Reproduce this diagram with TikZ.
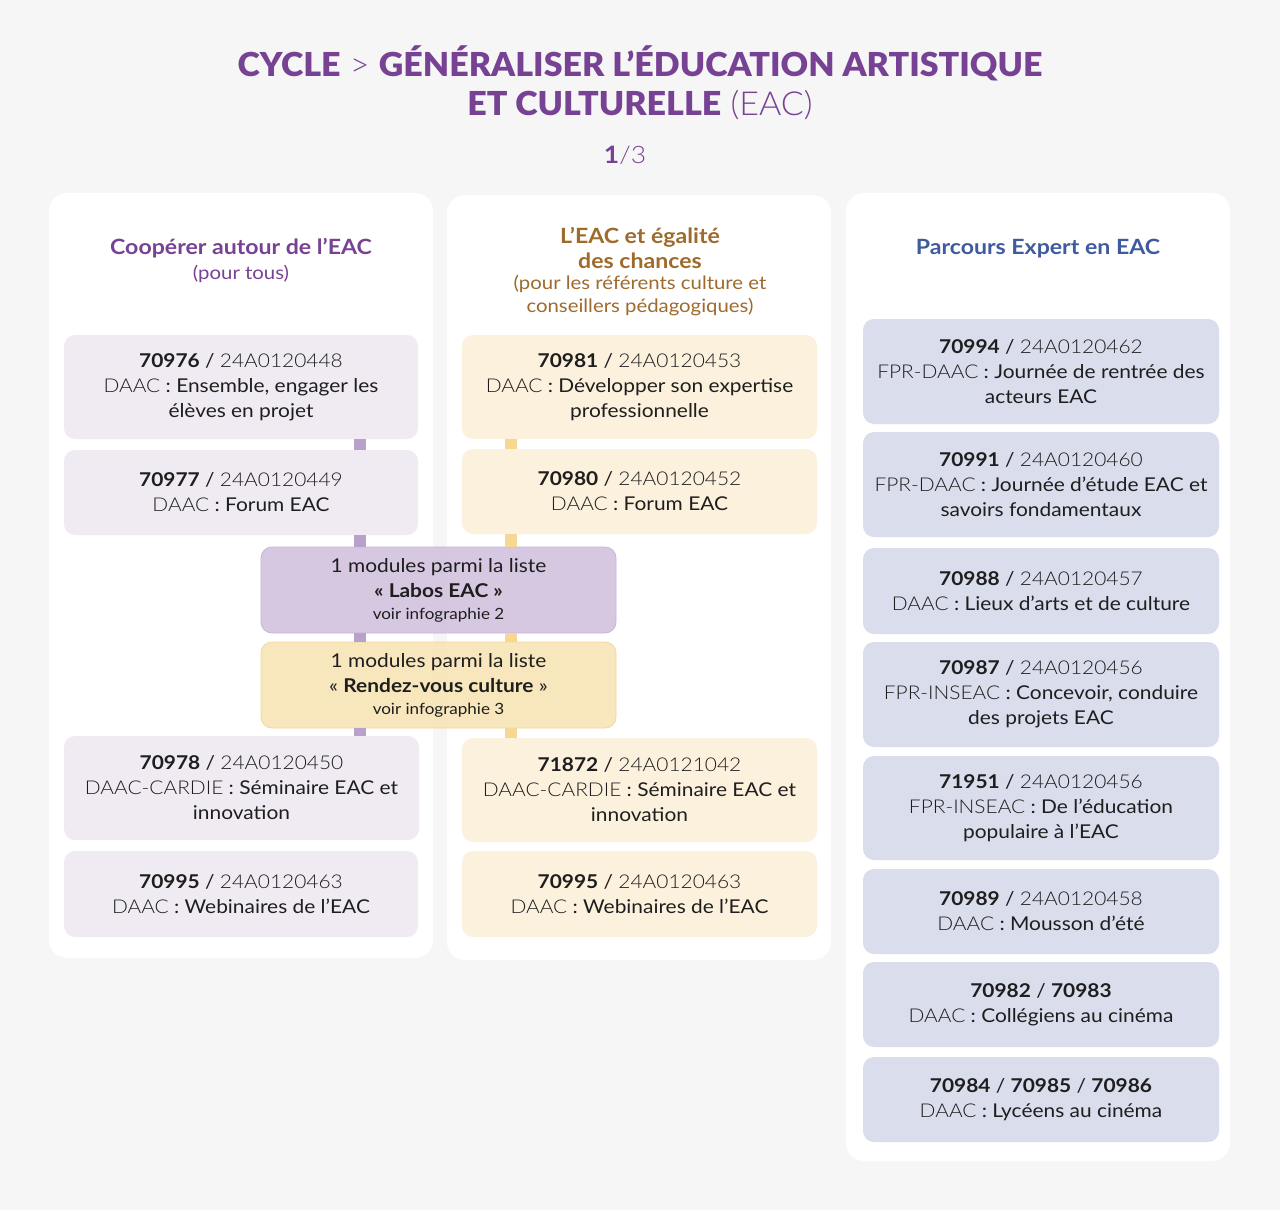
\documentclass[tikz,border=0pt]{standalone}
\usepackage{fontspec}
\setmainfont{Lato}[FakeStretch=1.1]
\newfontfamily\lt{Lato Light}[FakeStretch=1.1]
\newfontfamily\titlef[FakeStretch=1.03]{Lato Black}
\newfontfamily\titlelt[FakeStretch=1.03]{Lato Light}
\definecolor{bgc}{HTML}{F6F6F6}
\definecolor{purp}{HTML}{784294}
\definecolor{hbrown}{HTML}{9E6B2C}
\definecolor{hblue}{HTML}{3F5A9E}
\definecolor{lfill}{HTML}{F0EBF2}
\definecolor{mfill}{HTML}{FBF1DD}
\definecolor{rfill}{HTML}{D9DDEC}
\definecolor{labfill}{HTML}{D3C4DE}
\definecolor{labdraw}{HTML}{C9B5D9}
\definecolor{rdvfill}{HTML}{F8E5B8}
\definecolor{rdvdraw}{HTML}{F2D896}
\definecolor{lconnc}{HTML}{B8A2CC}
\definecolor{mconnc}{HTML}{F6D892}
\definecolor{txt}{HTML}{1E1E1E}
\newcommand\ent[4]{\textbf{#1} / {\lt #2}\\{\lt #3} : #4}
\tikzset{
  panel/.style={fill=white, rounded corners=18pt, inner sep=0pt},
  boxbase/.style={rounded corners=11pt, inner sep=0pt, align=center, text=txt,
    font=\fontsize{19}{25}\selectfont},
  lbox/.style={boxbase, fill=lfill, minimum width=354pt},
  mbox/.style={boxbase, fill=mfill, minimum width=355pt},
  rbox/.style={boxbase, fill=rfill, minimum width=356pt},
  modbox/.style={boxbase, minimum width=355pt, minimum height=86pt, fill opacity=0.92, text opacity=1, line width=0.8pt},
  lconn/.style={draw=lconnc, line width=12pt},
  mconn/.style={draw=mconnc, line width=12pt},
  hdr/.style={align=center, inner sep=0pt},
}
\begin{document}
\begin{tikzpicture}[x=1pt,y=-1pt]
\useasboundingbox (0,0) rectangle (1280,1210);
\fill[bgc] (0,0) rectangle (1280,1210);

% title
\node[hdr, text=purp, font=\fontsize{33}{39}\selectfont] (title) at (640,82.5)
  {{\titlef CYCLE} {\titlelt >} {\titlef GÉNÉRALISER L’ÉDUCATION ARTISTIQUE}\\{\titlef ET CULTURELLE} {\titlelt (EAC)}};
\node[hdr, text=purp, font=\fontsize{24}{28}\selectfont] (page) at (625,155) {\textbf{1}{\lt /3}};

% panels
\node[panel, minimum width=384pt, minimum height=765pt] (p1) at (241,575.5) {};
\node[panel, minimum width=384pt, minimum height=765pt] (p2) at (639,577.5) {};
\node[panel, minimum width=384pt, minimum height=968pt] (p3) at (1038,677) {};

% headers
\node[hdr, text=purp, font=\fontsize{21}{26}\selectfont\bfseries] (h1) at (241,248) {Coopérer autour de l’EAC};
\node[hdr, text=purp, font=\fontsize{18.5}{24}\selectfont] (h1b) at (241,274) {(pour tous)};
\node[hdr, text=hbrown, font=\fontsize{21}{25}\selectfont\bfseries] (h2) at (640,247.5)
  {L’EAC et égalité\\des chances};
\node[hdr, text=hbrown, font=\fontsize{18.5}{23}\selectfont] (h2b) at (640,295.5)
  {(pour les référents culture et\\conseillers pédagogiques)};
\node[hdr, text=hblue, font=\fontsize{21}{25}\selectfont\bfseries] (h3) at (1038,249)
  {Parcours Expert en EAC};

% connector x positions
\coordinate (cl) at (360,0);
\coordinate (cm) at (511,0);

% left column
\node[lbox, minimum height=104pt] (l1) at (241,387) {\ent{70976}{24A0120448}{DAAC}{Ensemble, engager les\\élèves en projet}};
\node[lbox, minimum height=85pt] (l2) at (241,492.5) {\ent{70977}{24A0120449}{DAAC}{Forum EAC}};
\node[lbox, minimum height=104pt, minimum width=355pt] (l3) at (241.5,788) {\ent{70978}{24A0120450}{DAAC-CARDIE}{Séminaire EAC et\\innovation}};
\node[lbox, minimum height=86pt] (l4) at (241,894) {\ent{70995}{24A0120463}{DAAC}{Webinaires de l’EAC}};

% middle column
\node[mbox, minimum height=104pt] (m1) at (639.5,387) {\ent{70981}{24A0120453}{DAAC}{Développer son expertise\\professionnelle}};
\node[mbox, minimum height=85pt] (m2) at (639.5,491.5) {\ent{70980}{24A0120452}{DAAC}{Forum EAC}};
\node[mbox, minimum height=104pt] (m3) at (639.5,790) {\ent{71872}{24A0121042}{DAAC-CARDIE}{Séminaire EAC et\\innovation}};
\node[mbox, minimum height=86pt] (m4) at (639.5,894) {\ent{70995}{24A0120463}{DAAC}{Webinaires de l’EAC}};

% connectors (drawn before module boxes)
\draw[lconn] (l1.south -| cl) -- (l2.north -| cl);
\draw[mconn] (m1.south -| cm) -- (m2.north -| cm);

% module boxes
\node[modbox, fill=labfill, draw=labdraw] (lab) at (438.5,590)
  {1 modules parmi la liste\\\textbf{«~Labos EAC~»}\\[-3pt]{\fontsize{15.5}{20}\selectfont voir infographie 2}};
\node[modbox, fill=rdvfill, draw=rdvdraw] (rdv) at (438.5,685)
  {1 modules parmi la liste\\«~\textbf{Rendez-vous culture}~»\\[-3pt]{\fontsize{15.5}{20}\selectfont voir infographie 3}};

\draw[lconn] (l2.south -| cl) -- (lab.north -| cl);
\draw[lconn] (lab.south -| cl) -- (rdv.north -| cl);
\draw[lconn] (rdv.south -| cl) -- (l3.north -| cl);
\draw[mconn] (m2.south -| cm) -- (lab.north -| cm);
\draw[mconn] (lab.south -| cm) -- (rdv.north -| cm);
\draw[mconn] (rdv.south -| cm) -- (m3.north -| cm);

% right column
\node[rbox, minimum height=105pt] (r1) at (1041,371.5) {\ent{70994}{24A0120462}{FPR-DAAC}{Journée de rentrée des\\acteurs EAC}};
\node[rbox, minimum height=105pt] (r2) at (1041,484.5) {\ent{70991}{24A0120460}{FPR-DAAC}{Journée d’étude EAC et\\savoirs fondamentaux}};
\node[rbox, minimum height=86pt] (r3) at (1041,591) {\ent{70988}{24A0120457}{DAAC}{Lieux d'arts et de culture}};
\node[rbox, minimum height=105pt] (r4) at (1041,694.5) {\ent{70987}{24A0120456}{FPR-INSEAC}{Concevoir, conduire\\des projets EAC}};
\node[rbox, minimum height=104pt] (r5) at (1041,808) {\ent{71951}{24A0120456}{FPR-INSEAC}{De l’éducation\\populaire à l’EAC}};
\node[rbox, minimum height=85pt] (r6) at (1041,911.5) {\ent{70989}{24A0120458}{DAAC}{Mousson d’été}};
\node[rbox, minimum height=85pt] (r7) at (1041,1004.5) {\textbf{70982} / \textbf{70983}\\{\lt DAAC} : Collégiens au cinéma};
\node[rbox, minimum height=85pt] (r8) at (1041,1099.5) {\textbf{70984} / \textbf{70985} / \textbf{70986}\\{\lt DAAC} : Lycéens au cinéma};
\end{tikzpicture}
\end{document}
